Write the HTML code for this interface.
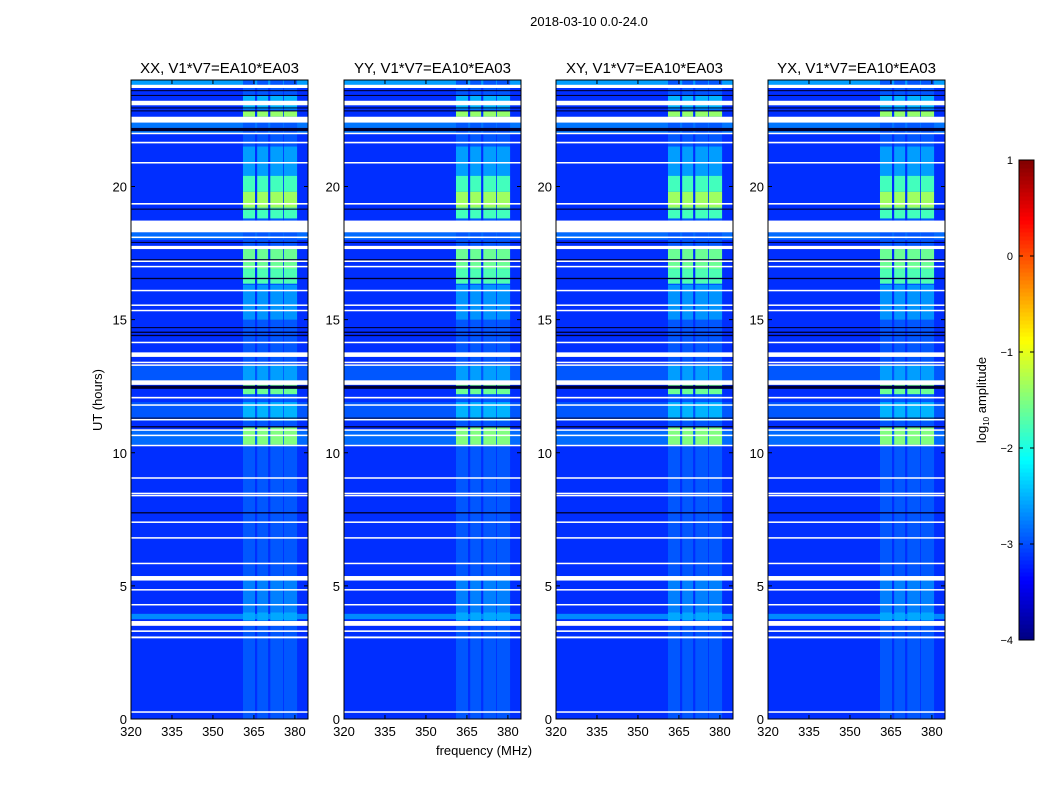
<!DOCTYPE html>
<html><head><meta charset="utf-8"><style>
body{margin:0;background:#fff;font-family:"Liberation Sans",sans-serif}
svg text{font-family:"Liberation Sans",sans-serif;fill:#000}
</style></head><body>
<svg id="fig" width="1050" height="800" xmlns="http://www.w3.org/2000/svg">
<text x="589" y="26" font-size="13" text-anchor="middle">2018-03-10 0.0-24.0</text>
<text x="102" y="400" font-size="13" text-anchor="middle" transform="rotate(-90 102 400)">UT (hours)</text>
<text x="484" y="755" font-size="13" text-anchor="middle">frequency (MHz)</text>
<g id="panels"></g>
<g id="cbar"></g>
</svg>
<script>
const panelTitles=["XX, V1*V7=EA10*EA03","YY, V1*V7=EA10*EA03","XY, V1*V7=EA10*EA03","YX, V1*V7=EA10*EA03"];
const xTicks=[320,335,350,365,380];
const yTicks=[0,5,10,15,20];
const backgroundLevel=-3.15;
// RFI frequency channels [fStart,fEnd] MHz
const rfiChannels=[[361,365.4],[366.2,370.2],[371,375.7],[376,380.8]];
const rfiBaseLevel=-2.95;
// bright time intervals [hStart,hEnd,level] in rfi channels
const brightIntervals=[[21.5,20.4,-2.6],[20.4,19.8,-1.8],[19.8,19.2,-1.35],[19.2,18.8,-1.8],[17.65,16.9,-1.6],[16.9,16.35,-1.75],[16.3,15.0,-2.65],[22.85,22.62,-1.4],[23.4,22.9,-2.5],[12.6,12.2,-1.6],[11.9,11.2,-2.5],[10.95,10.3,-1.5],[13.3,12.7,-2.6],[5.3,4.0,-2.75],[4.0,3.7,-2.55]];
// light full-width intervals [hStart,hEnd,level]
const wideIntervals=[[24,23.8,-2.6],[22.4,22.0,-2.8],[13.3,12.7,-2.95],[11.9,11.2,-2.95],[10.85,10.3,-2.85],[3.95,3.75,-2.7],[18.28,18.0,-2.85]];
// flagged (white) intervals [hStart,hEnd]
const flagged=[[23.82,23.7],[23.22,23.05],[22.62,22.4],[22.02,21.97],[21.68,21.62],[20.92,20.87],[19.38,19.32],[18.72,18.28],[18.12,18.07],[17.77,17.65],[17.22,17.17],[17.02,16.97],[16.12,16.07],[15.57,15.52],[15.37,15.32],[14.17,14.12],[13.77,13.6],[13.42,13.37],[13.32,13.27],[12.72,12.55],[12.1,12.04],[11.82,11.77],[11.27,11.22],[10.88,10.83],[10.68,10.63],[10.3,10.25],[9.08,9.03],[8.5,8.45],[8.42,8.37],[7.42,7.37],[6.83,6.78],[5.87,5.82],[5.37,5.2],[4.88,4.83],[4.32,4.27],[3.68,3.5],[3.33,3.27],[3.1,3.03],[0.29,0.24]];
// dark (black) rows [hStart,hEnd]
const darkRows=[[23.62,23.58],[23.44,23.4],[22.97,22.93],[22.86,22.82],[22.2,22.08],[19.17,19.13],[17.92,17.88],[17.27,17.23],[16.57,16.52],[14.72,14.68],[14.55,14.5],[14.43,14.38],[12.52,12.4],[11.32,11.28],[11.0,10.95],[7.77,7.72]];
const fMin=320,fMax=384.8,hMin=0,hMax=24;
const panelLefts=[131,344,556,768],pW=177,pTop=80,pBot=719;
const NS="http://www.w3.org/2000/svg";
function jet(v){let t=Math.max(0,Math.min(1,(v+4)/5));
 const f=x=>Math.max(0,Math.min(1,x));
 const r=f(Math.min(4*t-1.5,-4*t+4.5)),g=f(Math.min(4*t-0.5,-4*t+3.5)),b=f(Math.min(4*t+0.5,-4*t+2.5));
 return `rgb(${Math.round(r*255)},${Math.round(g*255)},${Math.round(b*255)})`;}
function mk(tag,attrs,parent){const e=document.createElementNS(NS,tag);for(const k in attrs)e.setAttribute(k,attrs[k]);parent.appendChild(e);return e;}
const yS=h=>pBot-(h-hMin)/(hMax-hMin)*(pBot-pTop);
const panelsG=document.getElementById('panels');
panelLefts.forEach((L,pi)=>{
 const xS=f=>L+(f-fMin)/(fMax-fMin)*pW;
 const g=mk('g',{},panelsG);
 
 
 const bg=mk('rect',{x:L,y:pTop,width:pW,height:pBot-pTop,fill:jet(backgroundLevel)},g);
 
 
 wideIntervals.forEach(w=>{const r=mk('rect',{x:L,y:yS(w[0]),width:pW,height:yS(w[1])-yS(w[0]),fill:jet(w[2])},g);
  
  });
 rfiChannels.forEach(c=>{const r=mk('rect',{x:xS(c[0]),y:pTop,width:xS(c[1])-xS(c[0]),height:pBot-pTop,fill:jet(rfiBaseLevel)},g);
  
  
  brightIntervals.forEach(b=>{const q=mk('rect',{x:xS(c[0]),y:yS(b[0]),width:xS(c[1])-xS(c[0]),height:yS(b[1])-yS(b[0]),fill:jet(b[2])},g);
   
   });});
 darkRows.forEach(d=>{const r=mk('rect',{x:L,y:yS(d[0]),width:pW,height:Math.max(1,yS(d[1])-yS(d[0])),fill:'#000030'},g);
  
  });
 flagged.forEach(d=>{const r=mk('rect',{x:L,y:yS(d[0]),width:pW,height:Math.max(1.5,yS(d[1])-yS(d[0])),fill:'#fff'},g);
  
  });
 const fr=mk('rect',{x:L,y:pTop,width:pW,height:pBot-pTop,fill:'none',stroke:'#000','stroke-width':1},g);
 
 
 xTicks.forEach(t=>{const x=xS(t);
  mk('line',{x1:x,x2:x,y1:pBot,y2:pBot-4,stroke:'#000'},g);mk('line',{x1:x,x2:x,y1:pTop,y2:pTop+4,stroke:'#000'},g);
  const tx=mk('text',{x:x,y:pBot+17,'font-size':13,'text-anchor':'middle'},g);tx.textContent=t;
  
  });
 yTicks.forEach(t=>{const y=yS(t);
  mk('line',{x1:L,x2:L+4,y1:y,y2:y,stroke:'#000'},g);mk('line',{x1:L+pW,x2:L+pW-4,y1:y,y2:y,stroke:'#000'},g);
  const tx=mk('text',{x:L-4,y:y+5,'font-size':13,'text-anchor':'end'},g);tx.textContent=t;
  
  });
 const tt=mk('text',{x:L+pW/2,y:73,'font-size':15,'text-anchor':'middle'},g);tt.textContent=panelTitles[pi];
 
 
});
// colorbar
const cbTicks=[1,0,-1,-2,-3,-4];
const cb=document.getElementById('cbar');
const cbX=1019,cbW=15,cbT=160,cbB=640,cMin=-4,cMax=1;
const cyS=v=>cbB-(v-cMin)/(cMax-cMin)*(cbB-cbT);
for(let i=0;i<120;i++){const v0=cMin+i*(cMax-cMin)/120,v1=cMin+(i+1)*(cMax-cMin)/120;
 mk('rect',{x:cbX,y:cyS(v1),width:cbW,height:cyS(v0)-cyS(v1)+0.5,fill:jet((v0+v1)/2)},cb);}
mk('rect',{x:cbX,y:cbT,width:cbW,height:cbB-cbT,fill:'none',stroke:'#000'},cb);
cbTicks.forEach(t=>{const y=cyS(t);mk('line',{x1:cbX,x2:cbX+4,y1:y,y2:y,stroke:'#000'},cb);mk('line',{x1:cbX+cbW,x2:cbX+cbW-4,y1:y,y2:y,stroke:'#000'},cb);
 const tx=mk('text',{x:1013,y:y+4,'font-size':11,'text-anchor':'end'},cb);tx.textContent=(t<0?'\u2212'+(-t):t);
 
 });
const cl=mk('text',{x:986,y:400,'font-size':13,'text-anchor':'middle',transform:'rotate(-90 986 400)'},cb);
cl.innerHTML='log<tspan font-size="8" dy="3">10</tspan><tspan dy="-3"> amplitude</tspan>';


</script>
</body></html>
